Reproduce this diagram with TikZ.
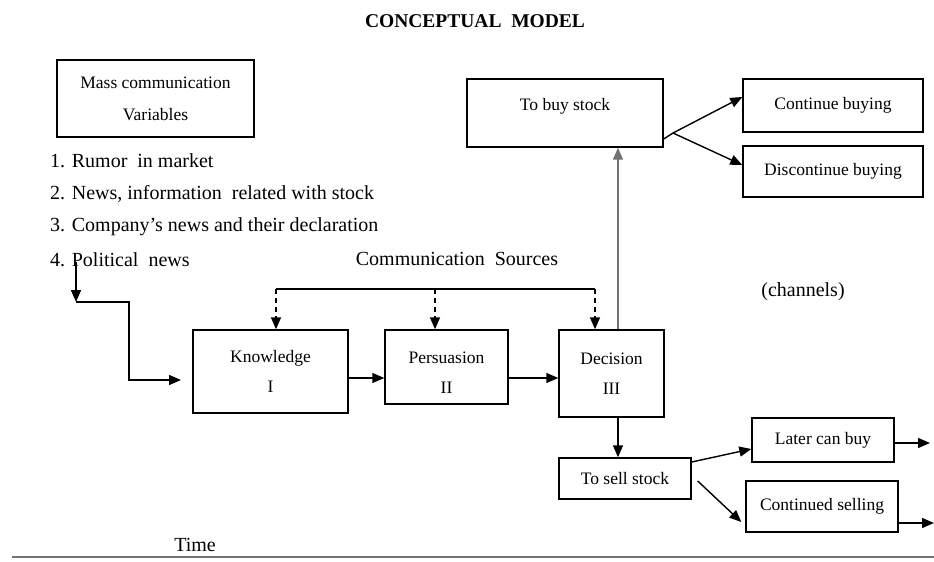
\documentclass[tikz,border=0pt]{standalone}
\usepackage{fontspec}
\setmainfont{Liberation Serif}
\usetikzlibrary{arrows.meta}
\tikzset{
  box/.style={draw, line width=1.4pt, inner sep=0pt, align=center, font=\fontsize{17.5}{30}\selectfont},
  big/.style={inner sep=0pt, font=\fontsize{20}{24}\selectfont},
  arr/.style={line width=1.4pt, -{Triangle[length=12pt,width=10pt]}},
  ln/.style={line width=1.4pt},
  dsh/.style={line width=1.5pt, dash pattern=on 5pt off 4pt, -{Triangle[length=12pt,width=10pt]}}
}
\begin{document}
\begin{tikzpicture}[x=1pt,y=-1pt]
\useasboundingbox (0,0) rectangle (934,562);
% title
\node[inner sep=0pt, font=\fontsize{19.5}{22}\selectfont\bfseries] (title) at (475,21) {CONCEPTUAL\ \ MODEL};
% boxes
\node[box, minimum width=197, minimum height=77, font=\fontsize{17.5}{32}\selectfont] (mass) at (155.5,98.5) {Mass communication\\Variables};
\node[box, minimum width=155, minimum height=83] (know) at (270.5,371.5) {Knowledge\\I};
\node[box, minimum width=123, minimum height=74] (pers) at (446.5,367) {\rule{0pt}{23pt}Persuasion\\II};
\node[box, minimum width=105, minimum height=87] (dec) at (611.5,373.5) {Decision\\III};
\node[box, minimum width=196, minimum height=68, font=\fontsize{17.5}{18}\selectfont] (buy) at (565,113) {To buy stock\\\mbox{}};
\node[box, minimum width=180, minimum height=53] (cont) at (833,105.5) {Continue buying};
\node[box, minimum width=180, minimum height=51] (disc) at (833,171.5) {Discontinue buying};
\node[box, minimum width=132, minimum height=41] (sell) at (625,478.5) {To sell stock};
\node[box, minimum width=142, minimum height=44] (later) at (823,440) {Later can buy};
\node[box, minimum width=152, minimum height=51] (csell) at (822,506.5) {Continued selling};
% list
\node[big, anchor=west] (i1) at (50,161) {1. Rumor\ \ in market};
\node[big, anchor=west] (i2) at (50,194) {2. News, information\ \ related with stock};
\node[big, anchor=west] (i3) at (50,227) {3. Company’s news and their declaration};
\node[big, anchor=west] (i4) at (50,260) {4. Political\ \ news};
\node[big] (cs) at (457,259) {Communication\ \ Sources};
\node[big] (chan) at (803,292) {(channels)};
\node[big] (time) at (195,545) {Time};
% coordinates
\coordinate (pn) at (76,262);
\coordinate (pnd) at (76,302);
\coordinate (c1) at (129,302);
\coordinate (c2) at (129,380);
\coordinate (kin) at (181,380);
\coordinate (d1) at (276,289);
\coordinate (d2) at (435,289);
\coordinate (d3) at (595,289);
\coordinate (br) at (673,133);
\coordinate (lo) at (930,443);
\coordinate (co) at (934,523);
\coordinate (t1) at (12,557);
\coordinate (t2) at (934,557);
% connectors
\draw[arr] (pn) -- (pnd);
\draw[arr] (pnd) -- (c1) -- (c2) -- (kin);
\draw[ln] (d1) -- (d3);
\draw[dsh] (d1) -- (know.north -| d1);
\draw[dsh] (d2) -- (pers.north -| d2);
\draw[dsh] (d3) -- (dec.north -| d3);
\draw[arr] (know.east |- 0,378) -- (pers.west |- 0,378);
\draw[arr] (pers.east |- 0,378) -- (dec.west |- 0,378);
\draw[arr, draw=black!55, fill=black] ([xshift=6.5pt]dec.north) -- (buy.south -| 618,0);
\draw[arr] ([xshift=6.5pt]dec.south) -- (sell.north -| 618,0);
\draw[ln] (buy.east |- 0,139) -- (br);
\draw[arr] (br) -- (cont.west |- 0,97);
\draw[arr] (br) -- (disc.west |- 0,165);
\draw[arr] (sell.east |- 0,462) -- (later.west |- 0,449);
\draw[arr] ([xshift=6pt]sell.east |- 0,481) -- ([xshift=-4pt]csell.west |- 0,522);
\draw[arr] (later.east |- 0,443) -- (lo);
\draw[arr] (csell.east |- 0,523) -- (co);
\draw[line width=2.2pt, black!55] (t1) -- (t2);
\end{tikzpicture}
\end{document}
